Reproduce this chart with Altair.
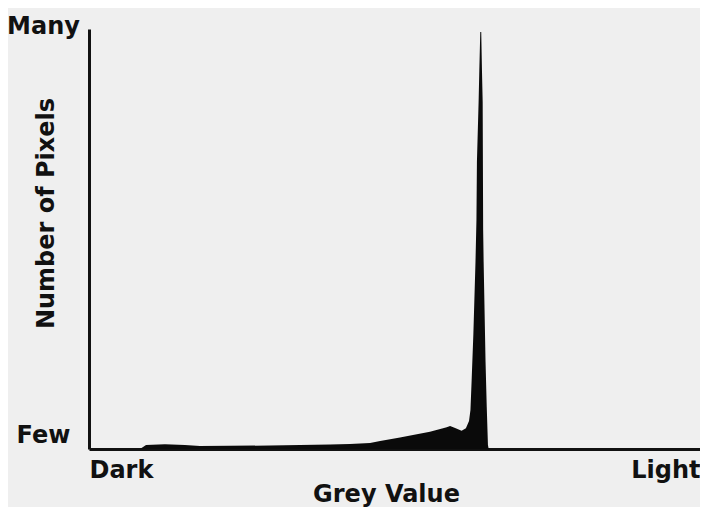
import altair as alt
import pandas as pd

# Grey value (0 = Dark, 255 = Light) and relative number of pixels (0 = Few, 100 = Many)
grey = [0, 21.3, 23.8, 31.7, 40.0, 46.3, 58.8, 75.5, 88.1, 100.6, 108.9, 117.3,
        121.5, 129.8, 135.2, 142.3, 149.3, 150.7, 152.8, 155.5, 157.3, 158.6,
        159.2, 159.7, 160.4, 161.3, 161.7, 161.9, 162.6, 162.9, 163.3, 163.7,
        164.0, 164.3, 164.5, 164.7, 165.5, 166.0, 166.5, 166.8, 255]
pixels = [0, 0, 0.95, 1.12, 0.95, 0.71, 0.76, 0.83, 0.95, 1.07, 1.19, 1.43,
          1.9, 2.74, 3.33, 4.12, 5.17, 5.48, 5.0, 4.36, 4.93, 6.67,
          9.29, 16.43, 27.14, 44.52, 54.52, 68.33, 82.62, 90.24, 99.29, 99.29,
          90.24, 82.62, 52.14, 44.52, 20.71, 10.0, 0.95, 0, 0]

x_ticks = [0, 255]
x_tick_labels = ["Dark", "Light"]
y_ticks = [3.2, 100]
y_tick_labels = ["Few", "Many"]

df = pd.DataFrame({"grey": grey, "pixels": pixels})

FONT = "DejaVu Sans"
INK = "#111111"

chart = alt.Chart(df).mark_area(color="#0a0a0a", interpolate="linear").encode(
    x=alt.X(
        "grey:Q",
        scale=alt.Scale(domain=[0, 255], nice=False, zero=False),
        axis=alt.Axis(
            values=x_ticks,
            labelExpr=f"datum.value < 100 ? '{x_tick_labels[0]}' : '{x_tick_labels[1]}'",
            labelFlush=True,
            labelBaseline="top",
            labelPadding=9,
            ticks=False,
            tickSize=0,
            grid=False,
            domainColor=INK,
            domainWidth=3,
            labelFont=FONT,
            labelFontSize=24,
            labelFontWeight="bold",
            labelColor=INK,
            title="Grey Value",
            titleFont=FONT,
            titleFontSize=24,
            titleFontWeight="bold",
            titleColor=INK,
            titleX=297,
            titleY=52,
            titleAlign="center",
            titleBaseline="alphabetic",
        ),
    ),
    y=alt.Y(
        "pixels:Q",
        scale=alt.Scale(domain=[0, 100], nice=False),
        axis=alt.Axis(
            values=y_ticks,
            labelExpr=f"datum.value > 50 ? '{y_tick_labels[1]}' : '{y_tick_labels[0]}'",
            labelAlign="center",
            labelBaseline="middle",
            labelPadding=46,
            labelOffset={"condition": {"test": "datum.value > 50", "value": -3}, "value": 0},
            ticks=False,
            tickSize=0,
            grid=False,
            domainColor=INK,
            domainWidth=3,
            labelFont=FONT,
            labelFontSize=24,
            labelFontWeight="bold",
            labelColor=INK,
            title="Number of Pixels",
            titleFont=FONT,
            titleFontSize=24,
            titleFontWeight="bold",
            titleColor=INK,
            titleAngle=270,
            titleX=-36,
            titleY=184,
            titleAlign="center",
            titleBaseline="alphabetic",
        ),
    ),
).properties(
    width=611,
    height=420,
    autosize=alt.AutoSizeParams(type="none"),
    padding={"left": 81, "top": 21, "right": 0, "bottom": 58},
    background="#efefef",
).configure_view(stroke=None)

chart.save("out.html", embed_options={"renderer": "svg", "actions": False})
